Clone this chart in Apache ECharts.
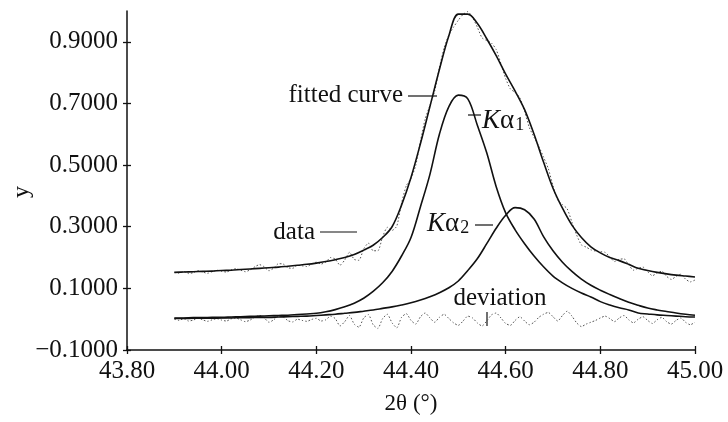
<!DOCTYPE html>
<html>
<head>
<meta charset="utf-8">
<script src="https://cdn.jsdelivr.net/npm/echarts@6/dist/echarts.min.js"></script>
<style>
  html, body { margin: 0; padding: 0; background: #fff; }
  #container { width: 728px; height: 422px; }
</style>
</head>
<body>
<div id="container"></div>
<script>
var dom = document.getElementById('container');
var myChart = echarts.init(dom, null, { renderer: 'canvas' });

// x positions of the fitted curves (step 0.02) and of the measured data (step 0.01)
const xFit = [];
for (let i = 0; i <= 55; i++) xFit.push(+(43.90 + i * 0.02).toFixed(2));
const xData = [];
for (let i = 0; i <= 110; i++) xData.push(+(43.90 + i * 0.01).toFixed(2));

const fitted = [
  0.152, 0.153, 0.154, 0.155, 0.156, 0.158, 0.159, 0.161, 0.163, 0.165,
  0.167, 0.169, 0.172, 0.175, 0.178, 0.182, 0.187, 0.193, 0.200, 0.210,
  0.224, 0.240, 0.265, 0.300, 0.370, 0.460, 0.570, 0.690, 0.810, 0.920,
  0.990, 0.990, 0.960, 0.910, 0.855, 0.795, 0.740, 0.680, 0.600, 0.510,
  0.425, 0.360, 0.305, 0.265, 0.235, 0.215, 0.200, 0.190, 0.178, 0.165,
  0.158, 0.152, 0.147, 0.143, 0.140, 0.137
];

const ka1 = [
  0.004, 0.004, 0.005, 0.005, 0.006, 0.006, 0.007, 0.008, 0.009, 0.010,
  0.011, 0.012, 0.013, 0.015, 0.017, 0.019, 0.024, 0.031, 0.040, 0.052,
  0.068, 0.090, 0.118, 0.155, 0.205, 0.265, 0.365, 0.470, 0.600, 0.690,
  0.727, 0.715, 0.630, 0.540, 0.430, 0.345, 0.290, 0.245, 0.205, 0.170,
  0.140, 0.118, 0.100, 0.085, 0.072, 0.057, 0.046, 0.037, 0.030, 0.020,
  0.017, 0.014, 0.012, 0.010, 0.008, 0.007
];

const ka2 = [
  0.002, 0.002, 0.003, 0.003, 0.003, 0.004, 0.004, 0.005, 0.005, 0.006,
  0.006, 0.007, 0.008, 0.009, 0.010, 0.012, 0.014, 0.016, 0.019, 0.022,
  0.026, 0.030, 0.035, 0.040, 0.046, 0.053, 0.062, 0.073, 0.086, 0.102,
  0.124, 0.158, 0.196, 0.245, 0.295, 0.337, 0.362, 0.355, 0.325, 0.268,
  0.222, 0.185, 0.155, 0.130, 0.110, 0.094, 0.080, 0.067, 0.055, 0.045,
  0.036, 0.030, 0.025, 0.020, 0.016, 0.013
];

const measured = [
  0.152, 0.149, 0.155, 0.148, 0.151, 0.158, 0.153, 0.149, 0.154, 0.159,
  0.155, 0.153, 0.160, 0.164, 0.159, 0.154, 0.160, 0.170, 0.177, 0.170,
  0.157, 0.166, 0.180, 0.179, 0.167, 0.165, 0.175, 0.173, 0.171, 0.179,
  0.185, 0.179, 0.185, 0.200, 0.195, 0.175, 0.192, 0.217, 0.194, 0.191,
  0.228, 0.247, 0.222, 0.222, 0.267, 0.298, 0.288, 0.302, 0.376, 0.433,
  0.456, 0.499, 0.578, 0.650, 0.694, 0.740, 0.816, 0.881, 0.922, 0.948,
  0.970, 0.989, 0.998, 0.979, 0.948, 0.913, 0.904, 0.896, 0.875, 0.829,
  0.781, 0.747, 0.736, 0.718, 0.674, 0.622, 0.590, 0.561, 0.526, 0.489,
  0.433, 0.386, 0.372, 0.358, 0.315, 0.273, 0.241, 0.234, 0.225, 0.221,
  0.219, 0.217, 0.202, 0.187, 0.194, 0.196, 0.176, 0.159, 0.165, 0.169,
  0.154, 0.141, 0.150, 0.156, 0.139, 0.129, 0.139, 0.146, 0.130, 0.121,
  0.127
];

const deviation = [
  0.000, -0.004, 0.002, -0.006, -0.003, 0.003, -0.002, -0.007, -0.002, 0.002,
  -0.003, -0.006, 0.001, 0.004, -0.002, -0.008, -0.003, 0.006, 0.012, 0.004,
  -0.010, -0.002, 0.011, 0.008, -0.005, -0.009, 0.000, -0.004, -0.007, -0.001,
  0.003, -0.006, -0.002, 0.010, 0.002, -0.022, -0.008, 0.012, -0.016, -0.026,
  0.004, 0.015, -0.018, -0.030, 0.002, 0.016, -0.012, -0.028, 0.006, 0.018,
  -0.004, -0.016, 0.008, 0.020, 0.004, -0.010, 0.006, 0.016, 0.002, -0.012,
  -0.020, -0.006, 0.010, 0.004, -0.012, -0.022, -0.006, 0.014, 0.020, 0.004,
  -0.014, -0.020, -0.004, 0.008, -0.006, -0.018, -0.010, 0.006, 0.016, 0.022,
  0.008, -0.006, 0.012, 0.026, 0.010, -0.012, -0.024, -0.016, -0.010, -0.004,
  0.004, 0.010, 0.002, -0.008, 0.004, 0.012, -0.002, -0.012, 0.000, 0.008,
  -0.004, -0.014, -0.002, 0.006, -0.008, -0.016, -0.004, 0.004, -0.010, -0.018,
  -0.010
];

const yTicks = [-0.1, 0.1, 0.3, 0.5, 0.7, 0.9];

function pairs(xs, ys) {
  return ys.map(function (v, i) { return [xs[i], v]; });
}

const serif = 'Liberation Serif';
const ink = '#111';

function solid(name, xs, ys) {
  return {
    name: name, type: 'line', data: pairs(xs, ys),
    showSymbol: false, smooth: 0.35, silent: true,
    lineStyle: { color: ink, width: 1.6 }
  };
}
function dotted(name, xs, ys) {
  return {
    name: name, type: 'line', data: pairs(xs, ys),
    showSymbol: false, smooth: 0.2, silent: true,
    lineStyle: { color: '#555', width: 1, type: [1.5, 2] }
  };
}

function txt(text, x, y, align, size) {
  return {
    type: 'text', x: x, y: y, silent: true,
    style: {
      text: text, fill: ink, font: (size || 25) + 'px "' + serif + '"',
      textAlign: align || 'left', textVerticalAlign: 'middle'
    }
  };
}
function seg(x1, y1, x2, y2) {
  return {
    type: 'line', silent: true,
    shape: { x1: x1, y1: y1, x2: x2, y2: y2 },
    style: { stroke: ink, lineWidth: 1.2 }
  };
}
function kalpha(sub, x, y) {
  return {
    type: 'text', x: x, y: y, silent: true,
    style: {
      text: '{k|K}{a|α}{s|' + sub + '}',
      textVerticalAlign: 'middle',
      rich: {
        k: { fontFamily: serif, fontStyle: 'italic', fontSize: 27, fill: ink, verticalAlign: 'bottom' },
        a: { fontFamily: serif, fontSize: 27, fill: ink, verticalAlign: 'bottom' },
        s: { fontFamily: serif, fontSize: 18, fill: ink, padding: [10, 0, 0, 1], verticalAlign: 'bottom' }
      }
    }
  };
}

var option = {
  backgroundColor: '#fff',
  animation: false,
  grid: { left: 127, right: 33, top: 11, bottom: 72 },
  xAxis: [
    {
      type: 'value', min: 43.8, max: 45.0, interval: 0.2,
      name: '2θ (°)', nameLocation: 'middle', nameGap: 42,
      nameTextStyle: { fontFamily: serif, fontSize: 23, color: ink },
      axisLine: { show: true, onZero: false, lineStyle: { color: ink, width: 1.5 } },
      axisTick: { show: true, length: 4, lineStyle: { color: ink, width: 1.3 } },
      axisLabel: {
        margin: 9, fontFamily: serif, fontSize: 25, color: ink,
        formatter: function (v) { return v.toFixed(2); }
      },
      splitLine: { show: false }
    },
    {
      type: 'value', min: 43.8, max: 45.0, interval: 0.2, position: 'bottom',
      axisLine: { show: false, onZero: false },
      axisTick: { show: true, inside: true, length: 4, lineStyle: { color: ink, width: 1.3 } },
      axisLabel: { show: false }, splitLine: { show: false }
    }
  ],
  yAxis: [
    {
      type: 'value', min: -0.1, max: 1.0,
      axisLine: { show: true, onZero: false, lineStyle: { color: ink, width: 1.5 } },
      axisTick: { show: true, length: 4, customValues: yTicks, lineStyle: { color: ink, width: 1.3 } },
      axisLabel: {
        margin: 9, fontFamily: serif, fontSize: 25, color: ink, customValues: yTicks,
        formatter: function (v) { return (v < 0 ? '−' : '') + Math.abs(v).toFixed(4); }
      },
      splitLine: { show: false }
    },
    {
      type: 'value', min: -0.1, max: 1.0, position: 'left',
      axisLine: { show: false, onZero: false },
      axisTick: { show: true, inside: true, length: 4, customValues: yTicks, lineStyle: { color: ink, width: 1.3 } },
      axisLabel: { show: false }, splitLine: { show: false }
    }
  ],
  series: [
    dotted('data', xData, measured),
    dotted('deviation', xData, deviation),
    solid('fitted curve', xFit, fitted),
    solid('Kα1', xFit, ka1),
    solid('Kα2', xFit, ka2)
  ],
  graphic: [
    {
      type: 'text', x: 22, y: 192, rotation: Math.PI / 2, silent: true,
      style: { text: 'y', fill: ink, font: '24px "' + serif + '"', textAlign: 'center', textVerticalAlign: 'middle' }
    },
    txt('fitted curve', 403, 95, 'right'),
    seg(408, 96, 437, 96),
    kalpha('1', 482, 120),
    seg(468, 115, 481, 115),
    kalpha('2', 427, 223),
    seg(475, 225, 493, 225),
    txt('data', 315, 232, 'right'),
    seg(320, 232, 357, 232),
    txt('deviation', 500, 298, 'center'),
    seg(487, 312, 487, 326)
  ]
};

myChart.setOption(option);
window.addEventListener('resize', myChart.resize);
</script>
</body>
</html>
